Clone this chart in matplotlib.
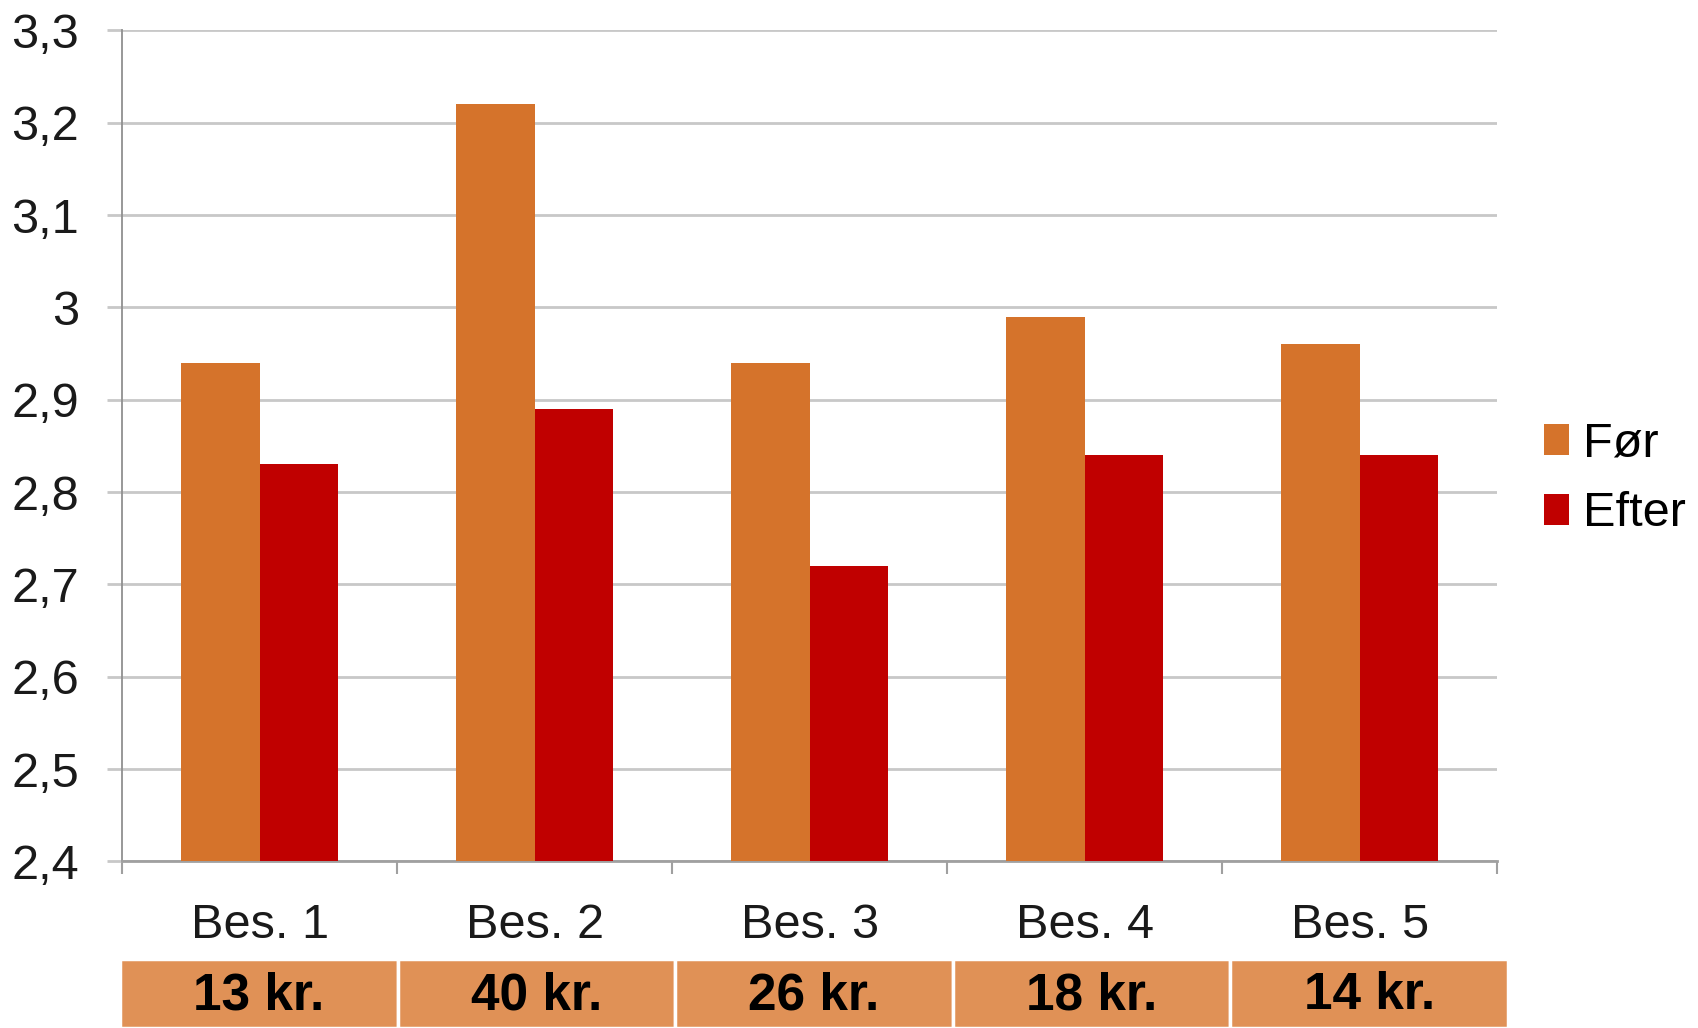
import matplotlib
matplotlib.use("Agg")
import matplotlib.pyplot as plt
import numpy as np

categories = ["Bes. 1", "Bes. 2", "Bes. 3", "Bes. 4", "Bes. 5"]
foer = [2.94, 3.22, 2.94, 2.99, 2.96]
efter = [2.83, 2.89, 2.72, 2.84, 2.84]
prices = ["13 kr.", "40 kr.", "26 kr.", "18 kr.", "14 kr."]
yticks = [2.4, 2.5, 2.6, 2.7, 2.8, 2.9, 3.0, 3.1, 3.2, 3.3]

C_FOER = "#D5732B"
C_EFTER = "#C00000"
C_TABLE = "#E09156"

plt.rcParams["font.family"] = ["Liberation Sans", "DejaVu Sans"]

fig = plt.figure(figsize=(16.99, 10.28), dpi=100)
ax = fig.add_axes([0.0720, 0.1621, 0.8093, 0.8084])

x = np.arange(len(categories))
w = 0.285
ax.bar(x - w / 2, foer, w, color=C_FOER, label="Før", zorder=3)
ax.bar(x + w / 2, efter, w, color=C_EFTER, label="Efter", zorder=3)

ax.set_xlim(-0.5, len(categories) - 0.5)
ax.set_ylim(2.4, 3.3)
ax.set_yticks(yticks)
ax.set_yticklabels([f"{v:g}".replace(".", ",") for v in yticks],
                   fontsize=35, color="#1a1a1a")
ax.yaxis.grid(True, color="#c8c8c8", lw=2, zorder=0)
ax.tick_params(axis="y", length=11, width=2, color="#c8c8c8", pad=20)

ax.set_xticks(x)
ax.set_xticklabels(categories, fontsize=35, color="#1a1a1a")
ax.set_xticks(np.arange(-0.5, len(categories)), minor=True)
ax.tick_params(axis="x", which="major", length=0, pad=30)
ax.tick_params(axis="x", which="minor", length=9, width=1.5, color="#a0a0a0")

for s in ["top", "right"]:
    ax.spines[s].set_visible(False)
ax.spines["left"].set_color("#909090")
ax.spines["left"].set_linewidth(1.3)
ax.spines["bottom"].set_color("#a0a0a0")
ax.spines["bottom"].set_linewidth(2)

ax.legend(loc="center left", bbox_to_anchor=(1.02, 0.46), frameon=False,
          fontsize=35, handlelength=0.5, handleheight=0.6, handletextpad=0.3,
          labelspacing=0.5, borderaxespad=0)

# price row under the chart
tab = fig.add_axes([0.0706, 0.0, 0.8170, 0.067])
tab.bar(x, [1] * len(prices), 1.0, bottom=0, color=C_TABLE,
        edgecolor="white", linewidth=2.5, align="center")
for xi, p in zip(x, prices):
    tab.text(xi, 0.47, p, ha="center", va="center", fontsize=37,
             fontweight="bold", color="black")
tab.set_xlim(-0.5, len(prices) - 0.5)
tab.set_ylim(0, 1)
tab.axis("off")

fig.savefig("out.png", dpi=100)
